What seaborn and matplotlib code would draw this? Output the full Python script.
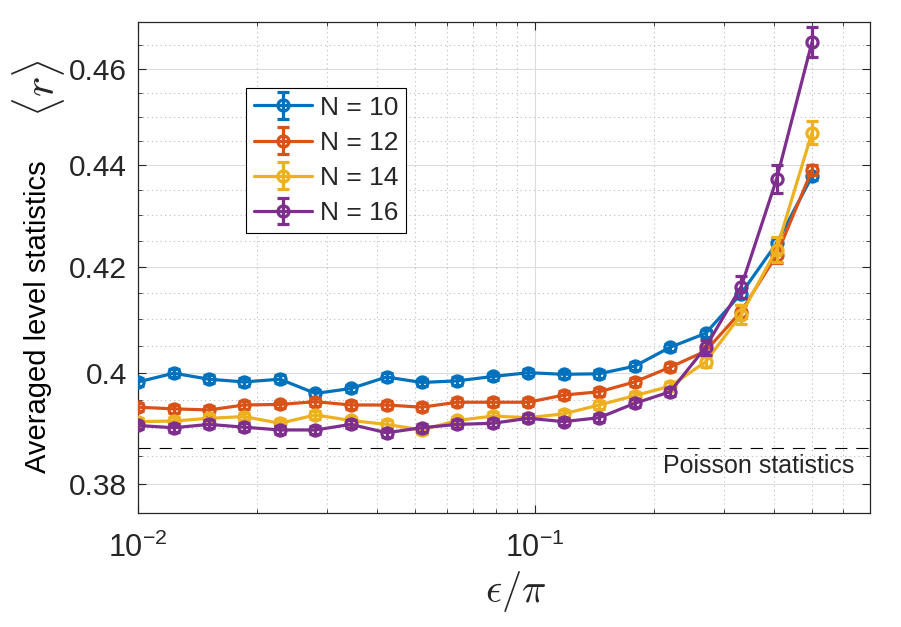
import numpy as np
import matplotlib
matplotlib.use("Agg")
import matplotlib.pyplot as plt
import seaborn as sns
from matplotlib.ticker import FixedLocator, NullFormatter, FixedFormatter, LogLocator
from matplotlib.legend_handler import HandlerTuple

# data
eps_pi = [0.0100, 0.0123, 0.0151, 0.0185, 0.0228, 0.0280, 0.0344, 0.0423, 0.0519, 0.0638,
          0.0784, 0.0963, 0.1183, 0.1453, 0.1786, 0.2194, 0.2696, 0.3312, 0.4069, 0.5000]

r_n10 = [0.3983, 0.3999, 0.3988, 0.3983, 0.3988, 0.3962, 0.3971, 0.3992, 0.3982, 0.3985,
         0.3993, 0.4000, 0.3997, 0.3998, 0.4012, 0.4047, 0.4073, 0.4148, 0.4245, 0.4378]
r_n12 = [0.3937, 0.3934, 0.3932, 0.3941, 0.3942, 0.3947, 0.3941, 0.3941, 0.3937, 0.3946,
         0.3946, 0.3946, 0.3959, 0.3965, 0.3983, 0.4010, 0.4040, 0.4114, 0.4222, 0.4391]
r_n14 = [0.3911, 0.3912, 0.3917, 0.3920, 0.3908, 0.3923, 0.3913, 0.3906, 0.3896, 0.3913,
         0.3921, 0.3918, 0.3925, 0.3941, 0.3958, 0.3975, 0.4020, 0.4108, 0.4233, 0.4467]
r_n16 = [0.3904, 0.3900, 0.3906, 0.3901, 0.3896, 0.3896, 0.3906, 0.3891, 0.3900, 0.3906,
         0.3908, 0.3917, 0.3911, 0.3918, 0.3944, 0.3965, 0.4047, 0.4161, 0.4372, 0.4657]

err_n10 = [0.0007] * 16 + [0.0007, 0.0009, 0.0010, 0.0008]
err_n12 = [0.0007] * 16 + [0.0008, 0.0012, 0.0015, 0.0010]
err_n14 = [0.0007] * 16 + [0.0010, 0.0018, 0.0024, 0.0023]
err_n16 = [0.0007] * 16 + [0.0014, 0.0021, 0.0028, 0.0033]

labels = ["N = 10", "N = 12", "N = 14", "N = 16"]
colors = ["#0072BD", "#D95319", "#EDB120", "#7E2F8E"]

poisson_r = 0.3863
y_ticks = [0.38, 0.40, 0.42, 0.44, 0.46]
y_ticklabels = ["0.38", "0.4", "0.42", "0.44", "0.46"]

sns.set_style("ticks")
plt.rcParams["font.family"] = ["Liberation Sans", "DejaVu Sans"]
plt.rcParams["mathtext.fontset"] = "custom"
plt.rcParams["mathtext.rm"] = "Liberation Sans"
plt.rcParams["mathtext.it"] = "Liberation Sans:italic"

fig = plt.figure(figsize=(9.01, 6.27), dpi=100)
ax = fig.add_axes([0.1532, 0.1818, 0.8124, 0.7831])

handles = []
for r, err, lab, c in zip([r_n10, r_n12, r_n14, r_n16],
                          [err_n10, err_n12, err_n14, err_n16], labels, colors):
    sns.lineplot(x=eps_pi, y=r, ax=ax, color=c, lw=2.3, marker="o", markersize=8,
                 markerfacecolor="none", markeredgecolor=c, markeredgewidth=2.3,
                 legend=False, zorder=3)
    line = ax.lines[-1]
    eb = ax.errorbar(eps_pi, r, yerr=err, fmt="none", ecolor=c, elinewidth=2.3,
                     capsize=4, capthick=2.3, zorder=3)
    handles.append((line, eb))

ax.axhline(poisson_r, color="black", lw=0.8, dashes=(11, 8), zorder=2)
ax.text(0.979, 0.096, "Poisson statistics", transform=ax.transAxes,
        ha="right", va="center", fontsize=18)

ax.set_xscale("log")
ax.set_yscale("log")
ax.set_xlim(0.01, 0.7)
ax.set_ylim(0.375, 0.47)

ax.xaxis.set_major_locator(FixedLocator([0.01, 0.1]))
ax.xaxis.set_major_formatter(FixedFormatter([r"$10^{-2}$", r"$10^{-1}$"]))
ax.xaxis.set_minor_locator(LogLocator(base=10, subs=np.arange(2, 10)))
ax.xaxis.set_minor_formatter(NullFormatter())

ax.yaxis.set_major_locator(FixedLocator(y_ticks))
ax.yaxis.set_major_formatter(FixedFormatter(y_ticklabels))
ax.yaxis.set_minor_locator(FixedLocator(np.arange(0.375, 0.4701, 0.005)))
ax.yaxis.set_minor_formatter(NullFormatter())

ax.grid(True, which="major", color="#dcdcdc", lw=0.8, ls="-")
ax.grid(True, which="minor", color="#bdbdbd", lw=0.8, ls=(0, (1, 3)))
ax.set_axisbelow(True)

ax.tick_params(which="both", direction="in", top=True, right=True, color="#262626")
ax.tick_params(which="major", length=6, width=0.8)
ax.tick_params(which="minor", length=3, width=0.6)
ax.tick_params(axis="y", labelsize=21.5, pad=8, labelcolor="#262626")
ax.tick_params(axis="x", labelsize=22, pad=14, labelcolor="#262626")
for s in ax.spines.values():
    s.set_color("#262626")
    s.set_linewidth(0.9)

ax.set_xlabel(r"$\epsilon/\pi$", fontsize=29, math_fontfamily="cm")
ax.xaxis.set_label_coords(0.516, -0.115)

# y label: plain text part plus a larger <r>
ax.text(-0.137, 0.40, "Averaged level statistics", transform=ax.transAxes,
        rotation=90, ha="center", va="center", fontsize=21, color="black")
ax.text(-0.136, 0.865, r"$\langle r\rangle$", transform=ax.transAxes,
        rotation=90, ha="center", va="center", fontsize=31, math_fontfamily="cm")

leg = ax.legend(handles, labels, handler_map={tuple: HandlerTuple(ndivide=1)},
                loc="upper left", bbox_to_anchor=(0.147, 0.866), fontsize=19,
                frameon=True, fancybox=False, edgecolor="black", framealpha=1,
                handlelength=2.2, labelspacing=0.42, borderpad=0.3, handletextpad=0.3,
                borderaxespad=0)
leg.get_frame().set_linewidth(0.8)

fig.savefig("out.png", dpi=100)
